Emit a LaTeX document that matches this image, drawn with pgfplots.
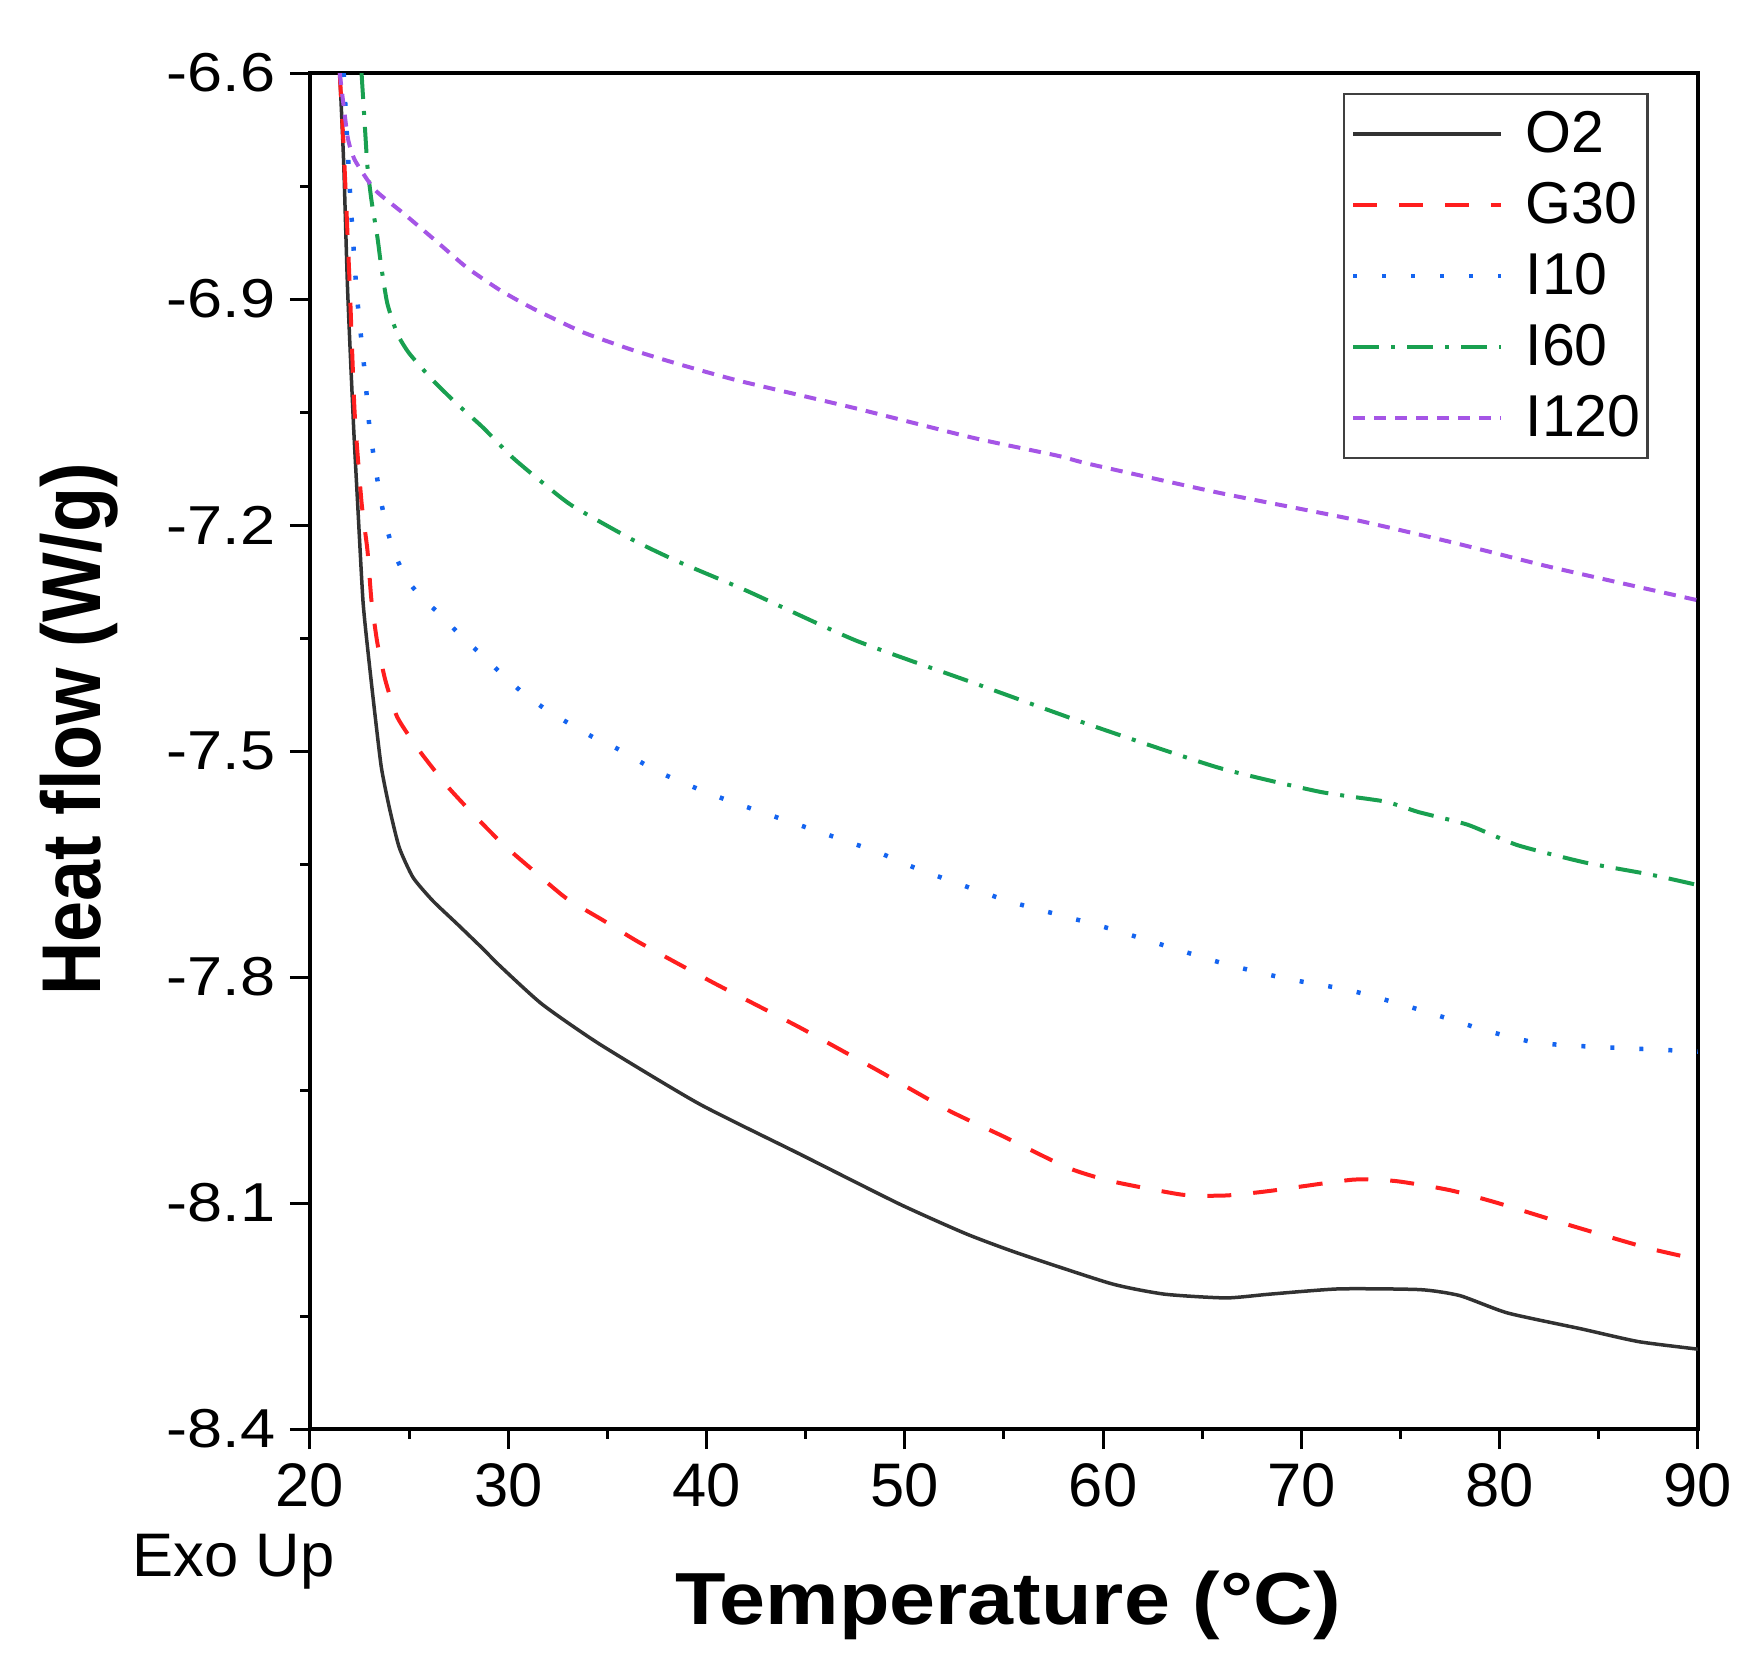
\documentclass[border=0pt]{standalone}
\usepackage{fontspec}
\setmainfont{Liberation Sans}
\usepackage{graphicx}
\usepackage{pgfplots}
\pgfplotsset{compat=1.18}
\definecolor{cO}{RGB}{50,50,50}
\definecolor{cG}{RGB}{255,30,30}
\definecolor{cIa}{RGB}{20,100,240}
\definecolor{cIb}{RGB}{25,160,80}
\definecolor{cIc}{RGB}{165,85,230}
\newcommand\ytl[1]{\scalebox{1.15}[1]{#1}}
\begin{document}
\begin{tikzpicture}
\useasboundingbox (-31mm,-24.4mm) rectangle (144.7mm,142.9mm);
\begin{axis}[
  at={(0,0)}, anchor=south west,
  scale only axis, width=138.8mm, height=135.6mm,
  xmin=20, xmax=90, ymin=-8.4, ymax=-6.6,
  xtick={20,30,40,50,60,70,80,90},
  xticklabels={20,30,40,50,60,70,80,90},
  ytick={-8.4,-8.1,-7.8,-7.5,-7.2,-6.9,-6.6},
  yticklabels={\ytl{-8.4},\ytl{-8.1},\ytl{-7.8},\ytl{-7.5},\ytl{-7.2},\ytl{-6.9},\ytl{-6.6}},
  minor x tick num=1, minor y tick num=1,
  tick align=outside, xtick pos=bottom, ytick pos=left,
  major tick length=2mm, minor tick length=0.95mm,
  every tick/.style={black, line width=0.3mm},
  axis line style={black, line width=0.32mm},
  /pgf/number format/assume math mode=true,
  xticklabel style={font=\fontsize{17.5pt}{20pt}\selectfont, inner sep=0pt},
  yticklabel style={font=\fontsize{15.6pt}{18pt}\selectfont, inner sep=0pt},
  xticklabel shift=1.4mm, yticklabel shift=1.4mm,
  label style={font=\bfseries\fontsize{21pt}{24pt}\selectfont},
  xlabel={\scalebox{1.12}[1]{Temperature (°C)}},
  ylabel={\scalebox{1}[1.13]{Heat flow (W/g)}},
  xlabel style={at={(axis description cs:0.503,-0.1445)}, anchor=base},
  ylabel style={at={(axis description cs:-0.1664,0.516)}, anchor=center},
  legend cell align=left,
  legend image code/.code={\draw[#1] (0mm,0mm) -- (14.8mm,0mm);},
  legend style={at={(axis description cs:0.7442,0.9853)}, anchor=north west,
    draw=black!75, line width=0.25mm,
    font=\fontsize{16.8pt}{18pt}\selectfont,
    inner xsep=0.7mm, inner ysep=0.45mm, column sep=2.2mm, row sep=0pt,
    nodes={inner sep=0pt, minimum height=7.1mm}},
]
% O2
\addplot[cO, line width=0.35mm, smooth, tension=0.35] coordinates {
(21.5,-6.60) (21.7,-6.72) (21.9,-6.89) (22.2,-7.07) (22.4,-7.17)
(22.67,-7.30) (22.92,-7.367) (23.27,-7.45) (23.6,-7.522) (24.0,-7.575)
(24.5,-7.628) (25.2,-7.668) (26.2,-7.699) (27.4,-7.729) (28.7,-7.762)
(29.57,-7.785) (31.7,-7.836) (34.6,-7.889) (39.6,-7.968) (44.7,-8.035)
(49.7,-8.101) (53.1,-8.141) (55.75,-8.167) (60.4,-8.207) (63.1,-8.221)
(66.2,-8.226) (68.4,-8.221) (71.9,-8.214) (76.0,-8.215) (78.0,-8.223)
(80.4,-8.246) (84.1,-8.267) (87.0,-8.284) (90,-8.294)
};
\addlegendentry{O2}
% G30
\addplot[cG, line width=0.4mm, dash pattern=on 2.4mm off 2.2mm, smooth, tension=0.35] coordinates {
(21.5,-6.60) (21.7,-6.70) (22.0,-6.88) (22.25,-7.05) (22.6,-7.17)
(22.9,-7.234) (23.1,-7.30) (23.4,-7.357) (23.8,-7.406) (24.4,-7.455)
(25.5,-7.499) (26.9,-7.546) (28.2,-7.583) (29.7,-7.623) (31.1,-7.655)
(32.9,-7.695) (34.8,-7.725) (36.6,-7.754) (40.3,-7.807) (44.7,-7.867)
(48.5,-7.922) (52.2,-7.977) (55.0,-8.012) (58.2,-8.053) (60.4,-8.071)
(64.0,-8.089) (66.2,-8.090) (68.4,-8.084) (72.6,-8.069) (74.8,-8.071)
(77.5,-8.083) (79.9,-8.100) (83.6,-8.130) (87.5,-8.160) (90,-8.175)
};
\addlegendentry{G30}
% I10
\addplot[cIa, line width=0.45mm, dash pattern=on 0.4mm off 2.5mm, smooth, tension=0.35] coordinates {
(21.7,-6.60) (22.0,-6.75) (22.35,-6.89) (22.77,-7.0) (23.0,-7.07)
(23.4,-7.14) (23.6,-7.171) (23.9,-7.207) (24.3,-7.24) (24.9,-7.273)
(25.7,-7.298) (26.7,-7.322) (27.6,-7.347) (28.6,-7.371) (29.6,-7.396)
(30.7,-7.422) (31.9,-7.445) (33.1,-7.464) (34.3,-7.482) (35.5,-7.497)
(37.6,-7.528) (40.0,-7.555) (42.1,-7.575) (48.4,-7.632) (50.6,-7.656)
(55.2,-7.699) (60.1,-7.734) (65.8,-7.780) (69.2,-7.802) (72.5,-7.818)
(75.9,-7.843) (79.3,-7.871) (81.8,-7.887) (84.3,-7.892) (89.3,-7.898) (90,-7.899)
};
\addlegendentry{I10}
% I60
\addplot[cIb, line width=0.4mm, dash pattern=on 2.6mm off 1.2mm on 0.4mm off 1.2mm, smooth, tension=0.35] coordinates {
(22.6,-6.60) (22.77,-6.672) (22.9,-6.725) (23.1,-6.769) (23.4,-6.818)
(23.6,-6.858) (23.9,-6.906) (24.4,-6.946) (25.0,-6.972) (26.2,-7.008)
(27.4,-7.039) (28.7,-7.07) (30.2,-7.11) (31.6,-7.141) (33.2,-7.174)
(36.3,-7.22) (38.6,-7.249) (42.0,-7.287) (47.5,-7.353) (53.4,-7.409)
(59.3,-7.465) (65.8,-7.522) (70.9,-7.554) (74.2,-7.567) (75.9,-7.581)
(78.4,-7.598) (80.9,-7.625) (84.3,-7.648) (87.6,-7.664) (90,-7.678)
};
\addlegendentry{I60}
% I120
\addplot[cIc, line width=0.4mm, dash pattern=on 1.2mm off 0.9mm, smooth, tension=0.35] coordinates {
(21.5,-6.60) (21.9,-6.685) (22.27,-6.716) (23.27,-6.755) (24.7,-6.786)
(26.4,-6.824) (27.9,-6.858) (29.57,-6.888) (31.2,-6.912) (33.75,-6.944)
(36.3,-6.968) (38.8,-6.988) (41.7,-7.009) (47.5,-7.045) (53.4,-7.084)
(57.7,-7.108) (59.3,-7.119) (65.8,-7.157) (72.5,-7.192) (77.6,-7.223)
(82.6,-7.256) (90,-7.300)
};
\addlegendentry{I120}
\end{axis}
\node[anchor=base west, inner sep=0pt, font=\fontsize{17.5pt}{20pt}\selectfont] at (-17.8mm,-14.7mm) {Exo Up};
\end{tikzpicture}
\end{document}
